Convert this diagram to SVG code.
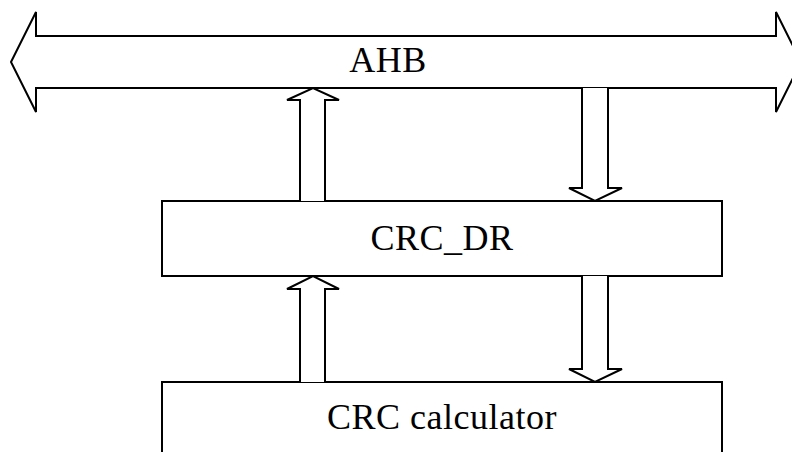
<svg xmlns="http://www.w3.org/2000/svg" width="792" height="452" viewBox="0 0 792 452">
  <style>
    .shape { fill: #ffffff; stroke: #000000; stroke-width: 2; stroke-linejoin: miter; }
    .label { font-family: "Liberation Serif", "Times New Roman", serif; font-size: 36px; letter-spacing: 0.5px; fill: #000000; text-anchor: middle; }
  </style>
  <rect width="792" height="452" fill="#ffffff"/>

  <!-- AHB bus: double-headed block arrow -->
  <g id="ahb">
    <path class="shape" d="M11,62 L36,12 L36,36 L776,36 L776,12 L801,62 L776,112 L776,88 L36,88 L36,112 Z"/>
    <text class="label" x="388" y="72">AHB</text>
  </g>

  <!-- Data register block -->
  <g id="crc_dr">
    <rect class="shape" x="162" y="201" width="560" height="75"/>
    <text class="label" x="442" y="250">CRC_DR</text>
  </g>

  <!-- Calculation unit (continues past the bottom edge) -->
  <g id="crc_calculator">
    <rect class="shape" x="162" y="382" width="560" height="90"/>
    <text class="label" x="442" y="429">CRC calculator</text>
  </g>

  <!-- Block arrows between blocks -->
  <g id="connectors">
    <!-- CRC_DR -> AHB (read) -->
    <path class="shape" d="M300,201 L300,100 L287,100 L313,88 L339,100 L325,100 L325,201"/>
    <!-- AHB -> CRC_DR (write) -->
    <path class="shape" d="M582,88 L582,188 L569,188 L595,201 L622,188 L608,188 L608,88"/>
    <!-- calculator -> CRC_DR -->
    <path class="shape" d="M300,382 L300,289 L287,289 L313,276 L339,289 L325,289 L325,382"/>
    <!-- CRC_DR -> calculator -->
    <path class="shape" d="M582,276 L582,369 L569,369 L595,382 L622,369 L608,369 L608,276"/>
  </g>
</svg>
